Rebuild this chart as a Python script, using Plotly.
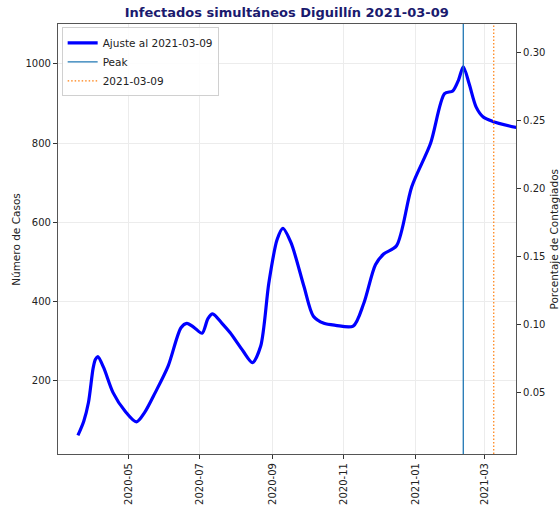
import plotly.graph_objects as go

# Ajuste de infectados simultáneos
fechas = [
    "2020-03-19", "2020-03-24", "2020-03-28", "2020-04-01", "2020-04-03",
    "2020-04-05", "2020-04-10", "2020-04-18", "2020-04-28", "2020-05-08",
    "2020-05-15", "2020-05-24", "2020-06-04", "2020-06-15", "2020-06-20",
    "2020-06-26", "2020-07-03", "2020-07-08", "2020-07-12", "2020-07-20",
    "2020-07-27", "2020-08-07", "2020-08-15", "2020-08-22", "2020-08-29",
    "2020-09-05", "2020-09-10", "2020-09-17", "2020-09-28", "2020-10-06",
    "2020-10-15", "2020-10-25", "2020-11-09", "2020-11-18", "2020-11-28",
    "2020-12-05", "2020-12-16", "2020-12-29", "2021-01-14", "2021-01-26",
    "2021-02-02", "2021-02-07", "2021-02-11", "2021-02-16", "2021-02-22",
    "2021-02-28", "2021-03-08", "2021-03-29",
]
casos = [
    62, 98, 145, 232, 254,
    261, 233, 170, 124, 96,
    120, 170, 237, 334, 345,
    335, 320, 357, 369, 345,
    321, 275, 246, 287, 447,
    556, 585, 548, 438, 363,
    345, 340, 338, 395, 493,
    520, 541, 690, 799, 925,
    932, 960, 993, 950, 891,
    866, 855, 839,
]

fecha_peak = "2021-02-11"
fecha_ajuste = "2021-03-09"
poblacion = 343000

x_rango = ["2020-03-02", "2021-03-28"]
y_rango = [15, 1101]

FONT = "DejaVu Sans"

porcentaje = [c / poblacion * 100 for c in casos]

fig = go.Figure()
fig.add_trace(go.Scatter(
    x=fechas, y=casos, mode="lines",
    line=dict(color="#0000ff", width=3.2, shape="spline", smoothing=0.8),
    name="Ajuste al " + fecha_ajuste, legendrank=1,
))
fig.add_trace(go.Scatter(
    x=fechas, y=porcentaje, mode="lines", yaxis="y2",
    line=dict(color="rgba(0,0,0,0)", width=0),
    showlegend=False, hoverinfo="skip",
))
fig.add_vline(x=fecha_peak, line=dict(color="#1f77b4", width=1.3),
              showlegend=True, name="Peak", legendrank=2)
fig.add_vline(x=fecha_ajuste, line=dict(color="#ff7f0e", width=1.2, dash="1.5px,2px"),
              showlegend=True, name=fecha_ajuste, legendrank=3)

axis_common = dict(
    showline=True, linecolor="#555555", linewidth=1.2,
    ticks="outside", ticklen=4, tickcolor="#333333",
    tickfont=dict(family=FONT, size=10, color="#222222"),
    zeroline=False, automargin=False,
)

fig.update_layout(
    width=560, height=505,
    paper_bgcolor="#ffffff", plot_bgcolor="#ffffff",
    font=dict(family=FONT, size=10, color="#222222"),
    title=dict(
        text="<b>Infectados simultáneos Diguillín " + fecha_ajuste + "</b>",
        x=0.512, xanchor="center", y=0.985, yanchor="top",
        font=dict(family=FONT, size=13, color="#1a1a6e"),
    ),
    margin=dict(l=58, r=44, t=24, b=51, autoexpand=False),
    xaxis=dict(
        **axis_common, type="date", range=x_rango,
        tick0="2020-01-01", dtick="M2", tickformat="%Y-%m", tickangle=-90,
        showgrid=True, gridcolor="#ececec", gridwidth=1, mirror=True,
    ),
    yaxis=dict(
        **axis_common, range=y_rango, dtick=200, tick0=0,
        showgrid=True, gridcolor="#ececec", gridwidth=1,
    ),
    yaxis2=dict(
        **axis_common, overlaying="y", side="right",
        range=[v / poblacion * 100 for v in y_rango], dtick=0.05, tick0=0,
        tickformat=".2f", showgrid=False,
    ),
    legend=dict(
        x=0.008, y=0.992, xanchor="left", yanchor="top",
        bgcolor="rgba(255,255,255,0.9)", bordercolor="#d0d0d0", borderwidth=1,
        font=dict(family=FONT, size=10.5), tracegroupgap=0, itemwidth=30,
    ),
    showlegend=True,
    annotations=[
        dict(text="Número de Casos", textangle=-90, xref="paper", yref="paper",
             x=-0.092, y=0.5, xanchor="center", yanchor="middle", showarrow=False,
             font=dict(family=FONT, size=10.5, color="#222222")),
        dict(text="Porcentaje de Contagiados", textangle=-90, xref="paper", yref="paper",
             x=1.082, y=0.5, xanchor="center", yanchor="middle", showarrow=False,
             font=dict(family=FONT, size=10.5, color="#222222")),
    ],
)

# sin margen del <body>, para que la figura ocupe la ventana completa
fig.write_html(
    "out.html",
    config={"displayModeBar": False},
    post_script="document.body.style.margin='0';document.body.style.overflow='hidden';",
)
